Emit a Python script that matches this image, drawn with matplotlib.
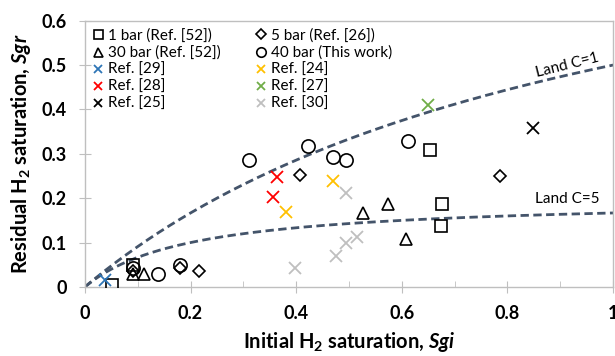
import numpy as np
import matplotlib
matplotlib.use("Agg")
import matplotlib.pyplot as plt
from matplotlib.ticker import MultipleLocator, FuncFormatter

plt.rcParams['font.family'] = ['Lato', 'DejaVu Sans']
plt.rcParams['mathtext.fontset'] = 'custom'
plt.rcParams['mathtext.rm'] = 'Lato:bold'
plt.rcParams['mathtext.it'] = 'Lato:italic:bold'
plt.rcParams['mathtext.bf'] = 'Lato:bold'

# initial / residual H2 saturation, grouped by source
bar1_sgi = [0.052, 0.092, 0.653, 0.676, 0.674]
bar1_sgr = [0.004, 0.050, 0.308, 0.187, 0.138]
bar5_sgi = [0.092, 0.180, 0.216, 0.407, 0.785]
bar5_sgr = [0.035, 0.042, 0.036, 0.252, 0.250]
bar30_sgi = [0.092, 0.112, 0.527, 0.574, 0.607]
bar30_sgr = [0.029, 0.029, 0.167, 0.187, 0.107]
bar40_sgi = [0.092, 0.139, 0.180, 0.311, 0.422, 0.470, 0.494, 0.612]
bar40_sgr = [0.042, 0.029, 0.050, 0.287, 0.317, 0.292, 0.286, 0.329]
ref29_sgi, ref29_sgr = [0.038], [0.016]
ref24_sgi, ref24_sgr = [0.380, 0.469], [0.168, 0.238]
ref28_sgi, ref28_sgr = [0.363, 0.357], [0.247, 0.202]
ref27_sgi, ref27_sgr = [0.650], [0.410]
ref25_sgi, ref25_sgr = [0.849], [0.357]
ref30_sgi = [0.398, 0.476, 0.494, 0.495, 0.516]
ref30_sgr = [0.042, 0.070, 0.212, 0.098, 0.113]

land_c = [1, 5]

fig = plt.figure(figsize=(6.15, 3.56), dpi=100)
ax = fig.add_axes([0.138, 0.194, 0.859, 0.748])

# Land trapping model curves
sgi = np.linspace(0, 1, 200)
for c in land_c:
    ax.plot(sgi, sgi / (1 + c * sgi), color='#44546a', lw=2,
            linestyle=(0, (3, 1.6)), zorder=1)

ax.text(0.913, 0.500, 'Land C=1', fontsize=11, rotation=14,
        ha='center', va='center', color='black')
ax.text(0.852, 0.198, 'Land C=5', fontsize=11, ha='left', va='center',
        color='black')

open_kw = dict(linestyle='none', markerfacecolor='none',
               markeredgecolor='black', markeredgewidth=1.2, zorder=3)
h_b1, = ax.plot(bar1_sgi, bar1_sgr, marker='s', markersize=9,
                label='1 bar (Ref. [52])', **open_kw)
h_b30, = ax.plot(bar30_sgi, bar30_sgr, marker='^', markersize=9,
                 label='30 bar (Ref. [52])', **open_kw)
h_b5, = ax.plot(bar5_sgi, bar5_sgr, marker='D', markersize=6.5,
                label='5 bar (Ref. [26])', **open_kw)
h_b40, = ax.plot(bar40_sgi, bar40_sgr, marker='o', markersize=9.5,
                 label='40 bar (This work)', **open_kw)

x_kw = dict(linestyle='none', marker='x', markersize=8.5,
            markeredgewidth=1.3, zorder=3)
h29, = ax.plot(ref29_sgi, ref29_sgr, color='#2e75b6', label='Ref. [29]', **x_kw)
h28, = ax.plot(ref28_sgi, ref28_sgr, color='#ff0000', label='Ref. [28]', **x_kw)
h25, = ax.plot(ref25_sgi, ref25_sgr, color='black', label='Ref. [25]', **x_kw)
h24, = ax.plot(ref24_sgi, ref24_sgr, color='#ffc000', label='Ref. [24]', **x_kw)
h27, = ax.plot(ref27_sgi, ref27_sgr, color='#70ad47', label='Ref. [27]', **x_kw)
h30, = ax.plot(ref30_sgi, ref30_sgr, color='#bfbfbf', label='Ref. [30]', **x_kw)

handles = [h_b1, h_b30, h29, h28, h25, h_b5, h_b40, h24, h27, h30]
leg = ax.legend(handles=handles, ncol=2, loc='upper left',
                bbox_to_anchor=(-0.006, 1.012), frameon=False, fontsize=11,
                handlelength=0.7, handletextpad=0.3, labelspacing=0.2,
                columnspacing=2.3, borderaxespad=0.3, markerscale=0.72)

ax.set_xlim(0, 1)
ax.set_ylim(0, 0.6)
ax.xaxis.set_major_locator(MultipleLocator(0.2))
ax.xaxis.set_minor_locator(MultipleLocator(0.1))
ax.yaxis.set_major_locator(MultipleLocator(0.1))
fmt = FuncFormatter(lambda v, pos: '%g' % round(v, 2))
ax.xaxis.set_major_formatter(fmt)
ax.yaxis.set_major_formatter(fmt)

for side in ax.spines.values():
    side.set_color('#bfbfbf')
    side.set_linewidth(1)

ax.tick_params(axis='both', which='major', direction='inout', length=8,
               color='#bfbfbf', labelsize=13, labelcolor='black')
ax.tick_params(axis='x', which='major', pad=9)
ax.tick_params(axis='y', which='major', pad=9)
ax.tick_params(axis='x', which='minor', direction='in', length=4,
               color='#bfbfbf')
for lab in ax.get_xticklabels() + ax.get_yticklabels():
    lab.set_fontweight('bold')

ax.set_xlabel(r'Initial H$_2$ saturation, $Sgi$', fontsize=14.5,
              fontweight='bold', labelpad=6)
ax.set_ylabel(r'Residual H$_2$ saturation, $Sgr$', fontsize=14.5,
              fontweight='bold', labelpad=6)

fig.savefig('out.png', dpi=100)
